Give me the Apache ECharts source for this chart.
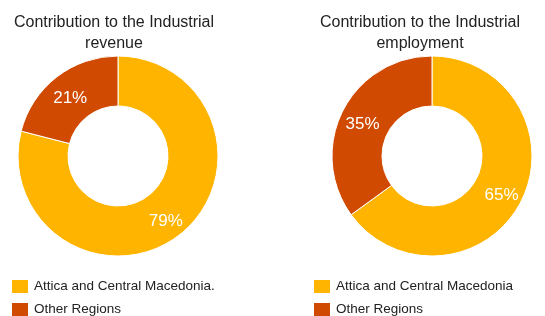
<!DOCTYPE html>
<html>
<head>
<meta charset="utf-8">
<script src="https://cdn.jsdelivr.net/npm/echarts@6/dist/echarts.min.js"></script>
<style>
  html, body { margin: 0; padding: 0; background: #fff; }
  #chart { width: 545px; height: 316px; }
</style>
</head>
<body>
<div id="chart"></div>
<script>
// share of each region, in percent
var revenueNames = ['Attica and Central Macedonia.', 'Other Regions'];
var revenueValues = [79, 21];
var employmentNames = ['Attica and Central Macedonia', 'Other Regions'];
var employmentValues = [65, 35];
var sliceColors = ['#ffb500', '#d04a02'];

var font = 'Liberation Sans, Arial, sans-serif';

function toData(names, values) {
  return names.map(function (n, i) {
    return { name: n, value: values[i], itemStyle: { color: sliceColors[i] } };
  });
}

function donut(center, names, values) {
  return {
    type: 'pie',
    radius: [50, 100],
    center: center,
    startAngle: 90,
    clockwise: true,
    avoidLabelOverlap: false,
    itemStyle: { borderColor: '#fff', borderWidth: 1 },
    label: {
      show: true,
      position: 'inside',
      formatter: '{c}%',
      color: '#fff',
      fontSize: 17,
      fontFamily: font,
      offset: [0, 4]
    },
    labelLine: { show: false },
    emphasis: { scale: false },
    data: toData(names, values)
  };
}

// one legend per entry so the rows sit where the reference has them
function legendRows(left, names) {
  return names.map(function (n, i) {
    return {
      left: left,
      top: 278 + i * 23,
      padding: 0,
      icon: 'rect',
      itemWidth: 18,
      itemHeight: 15,
      textStyle: { fontSize: 13.5, color: '#222', fontFamily: font },
      data: [n]
    };
  });
}

var chart = echarts.init(document.getElementById('chart'));
chart.setOption({
  animation: false,
  title: [{
    text: 'Contribution to the Industrial\nrevenue',
    left: 114,
    top: 12,
    padding: 0,
    textAlign: 'center',
    textStyle: { fontSize: 16, fontWeight: 'normal', color: '#222', lineHeight: 21, fontFamily: font }
  }, {
    text: 'Contribution to the Industrial\nemployment',
    left: 420,
    top: 12,
    padding: 0,
    textAlign: 'center',
    textStyle: { fontSize: 16, fontWeight: 'normal', color: '#222', lineHeight: 21, fontFamily: font }
  }],
  legend: legendRows(10, revenueNames).concat(legendRows(312, employmentNames)),
  series: [
    donut([118, 156], revenueNames, revenueValues),
    donut([432, 156], employmentNames, employmentValues)
  ]
});
</script>
</body>
</html>
